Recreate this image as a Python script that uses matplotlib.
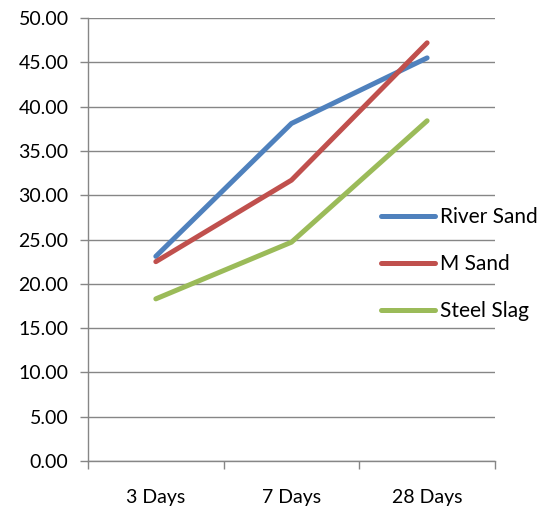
import matplotlib.pyplot as plt
import numpy as np

plt.rcParams['font.family'] = ['Lato', 'DejaVu Sans']

ages = ["3 Days", "7 Days", "28 Days"]
river_sand = [23.1, 38.1, 45.5]
m_sand = [22.5, 31.7, 47.2]
steel_slag = [18.3, 24.7, 38.4]

fig = plt.figure(figsize=(5.44, 5.12), dpi=100)
ax = fig.add_axes([0.1618, 0.0996, 0.748, 0.8652])

x = np.arange(len(ages))
ax.plot(x, river_sand, color="#4F81BD", lw=3.6, solid_capstyle="round", label="River Sand")
ax.plot(x, m_sand, color="#C0504D", lw=3.6, solid_capstyle="round", label="M Sand")
ax.plot(x, steel_slag, color="#9BBB59", lw=3.6, solid_capstyle="round", label="Steel Slag")

ax.set_xlim(-0.5, 2.5)
ax.set_ylim(0, 50)
ax.set_yticks(np.arange(0, 51, 5))
ax.set_yticklabels([f"{v:.2f}" for v in np.arange(0, 51, 5)])
ax.yaxis.grid(True, color="#868686", lw=1)
ax.set_axisbelow(True)

# category boundaries get the tick marks, labels sit in the middle
ax.set_xticks([-0.5, 0.5, 1.5, 2.5])
ax.set_xticklabels([])
ax.set_xticks(x, minor=True)
ax.set_xticklabels(ages, minor=True)
ax.tick_params(axis="x", which="minor", length=0, pad=20, labelsize=14)
ax.tick_params(axis="x", which="major", length=6, color="#868686", width=1)
ax.tick_params(axis="y", length=6, color="#868686", width=1, labelsize=14, pad=8)

for s in ["top", "right"]:
    ax.spines[s].set_visible(False)
for s in ["left", "bottom"]:
    ax.spines[s].set_color("#868686")
    ax.spines[s].set_linewidth(1)

ax.legend(loc="upper left", bbox_to_anchor=(381 / 544, 1 - 207 / 512),
          bbox_transform=fig.transFigure, frameon=False, fontsize=15,
          borderpad=0, borderaxespad=0,
          handlelength=2.6, handletextpad=0.25, labelspacing=1.3)

fig.savefig("out.png", dpi=100)
